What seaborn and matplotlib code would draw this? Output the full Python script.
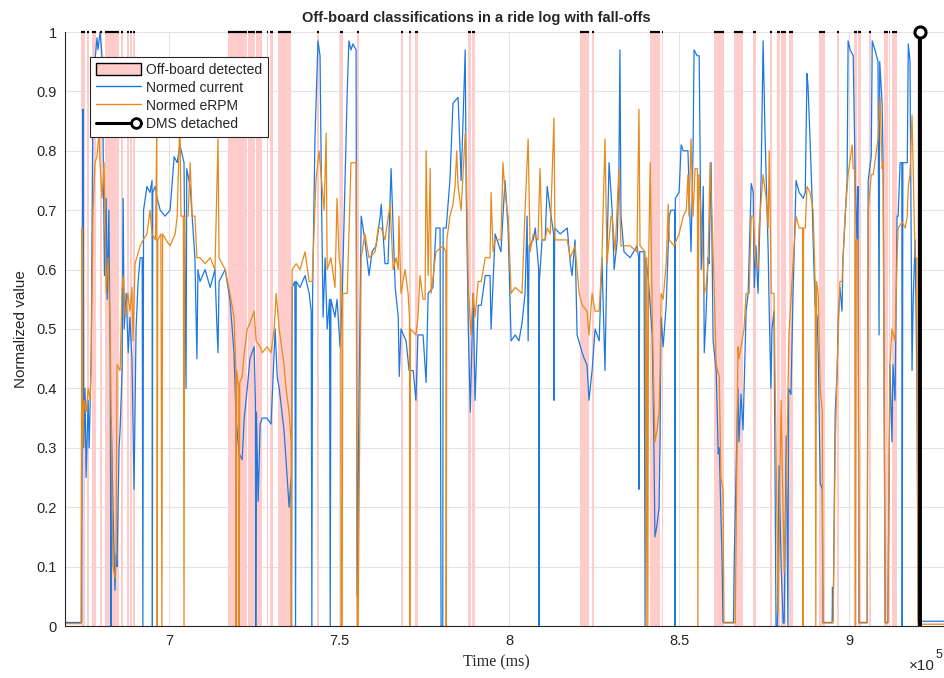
"""Off-board classification chart (MATLAB-style look) with seaborn."""
import numpy as np
import matplotlib
matplotlib.use("Agg")
import matplotlib.pyplot as plt
from matplotlib.lines import Line2D
from matplotlib.patches import Patch
from matplotlib.legend_handler import HandlerBase
import seaborn as sns

# ---- data (time in thousands of ms, values normalized) ----
current = [
    (669.4, 0.006), (674.3, 0.006), (674.5, 0.60), (674.7, 0.87), (674.9, 0.30), (675.3, 0.40),
    (675.6, 0.25), (676.2, 0.38), (676.5, 0.30), (677.1, 0.45), (677.6, 0.88), (678.2, 0.95),
    (678.8, 0.99), (679.1, 0.97), (679.7, 1.0), (680.3, 0.96), (680.6, 0.82), (681.0, 0.59),
    (681.5, 0.72), (681.8, 0.55), (682.3, 0.70), (682.7, 0.45), (682.9, 0.0), (683.0, 0.35),
    (683.5, 0.20), (684.1, 0.06), (684.4, 0.12), (684.7, 0.10), (685.3, 0.30), (685.6, 0.33),
    (686.2, 0.43), (686.5, 0.72), (686.8, 0.50), (687.4, 0.56), (688.0, 0.46), (688.5, 0.52),
    (689.1, 0.45), (689.7, 0.23), (690.3, 0.50), (690.9, 0.58), (691.5, 0.62), (692.1, 0.62),
    (692.3, 0.0), (692.5, 0.70), (693.5, 0.74), (694.4, 0.73), (695.0, 0.75), (695.1, 0.0),
    (695.2, 0.73), (695.9, 0.74), (696.5, 0.72), (697.4, 0.70), (698.8, 0.69), (700.3, 0.70),
    (701.5, 0.79), (702.4, 0.78), (703.2, 0.81), (704.4, 0.78), (705.0, 0.40), (705.2, 0.77),
    (706.2, 0.74), (707.6, 0.62), (708.2, 0.45), (708.5, 0.60), (709.1, 0.58), (710.6, 0.60),
    (712.1, 0.57), (713.5, 0.60), (714.1, 0.50), (714.4, 0.46), (714.7, 0.58), (716.5, 0.60),
    (717.9, 0.55), (719.1, 0.46), (719.7, 0.35), (720.6, 0.29), (721.5, 0.28), (722.1, 0.35),
    (723.0, 0.40), (723.8, 0.45), (725.0, 0.47), (725.4, 0.38), (725.5, 0.0), (725.7, 0.36),
    (726.2, 0.21), (726.8, 0.34), (727.4, 0.35), (728.8, 0.35), (730.0, 0.34), (731.2, 0.50),
    (731.8, 0.42), (732.4, 0.40), (733.8, 0.33), (734.4, 0.28), (735.3, 0.20), (735.9, 0.25),
    (736.0, 0.0), (736.2, 0.57), (737.0, 0.58), (737.2, 0.0), (737.4, 0.58), (738.5, 0.57),
    (740.0, 0.59), (741.2, 0.56), (741.8, 0.53), (742.0, 0.0), (742.2, 0.55), (742.9, 0.82),
    (743.8, 0.985), (744.4, 0.96), (744.9, 0.69), (745.3, 0.52), (745.9, 0.62), (746.5, 0.50),
    (747.2, 0.55), (747.4, 0.0), (747.6, 0.55), (748.8, 0.52), (749.4, 0.55), (750.3, 0.47),
    (750.9, 0.55), (752.4, 0.90), (752.9, 0.985), (753.5, 0.97), (754.1, 0.98), (755.0, 0.97),
    (755.3, 0.05), (755.9, 0.40), (756.5, 0.69), (757.6, 0.65), (758.8, 0.59), (759.7, 0.63),
    (760.9, 0.64), (762.1, 0.69), (762.4, 0.71), (763.5, 0.61), (764.4, 0.61), (765.3, 0.77),
    (766.5, 0.57), (767.4, 0.52), (767.7, 0.42), (768.2, 0.50), (769.7, 0.48), (770.6, 0.43),
    (771.8, 0.43), (772.6, 0.38), (773.2, 0.49), (774.7, 0.49), (775.6, 0.41), (776.2, 0.56),
    (777.6, 0.57), (778.5, 0.67), (779.7, 0.67), (780.0, 0.0), (780.5, 0.0), (780.6, 0.67),
    (781.5, 0.67), (782.6, 0.75), (783.5, 0.88), (785.0, 0.89), (785.9, 0.75), (787.1, 0.97),
    (787.4, 0.73), (788.0, 0.50), (788.6, 0.36), (789.4, 0.56), (790.0, 0.38), (790.9, 0.54),
    (791.8, 0.54), (793.0, 0.59), (794.4, 0.59), (794.7, 0.50), (795.9, 0.66), (797.6, 0.63),
    (798.8, 0.75), (799.7, 0.67), (800.6, 0.48), (801.8, 0.49), (802.9, 0.48), (803.8, 0.51),
    (804.7, 0.56), (805.3, 0.69), (805.6, 0.48), (805.9, 0.64), (807.1, 0.65), (807.7, 0.67),
    (808.7, 0.60), (808.8, 0.0), (808.9, 0.58), (809.7, 0.65), (810.6, 0.65), (811.2, 0.74),
    (812.1, 0.70), (813.1, 0.66), (813.2, 0.38), (813.4, 0.67), (815.0, 0.66), (817.1, 0.67),
    (818.0, 0.61), (818.5, 0.59), (819.4, 0.65), (820.0, 0.49), (821.5, 0.46), (822.1, 0.45),
    (822.9, 0.44), (823.5, 0.38), (824.4, 0.43), (825.3, 0.50), (826.5, 0.48), (827.3, 0.62),
    (828.2, 0.43), (828.8, 0.63), (829.4, 0.78), (830.3, 0.70), (830.9, 0.60), (831.8, 0.65),
    (832.3, 0.77), (832.6, 0.97), (832.9, 0.69), (833.8, 0.63), (835.6, 0.62), (837.6, 0.64),
    (838.1, 0.62), (838.2, 0.23), (838.4, 0.63), (839.7, 0.63), (840.0, 0.0), (840.2, 0.62),
    (841.0, 0.58), (842.1, 0.49), (842.6, 0.30), (842.9, 0.15), (843.5, 0.17), (844.1, 0.20),
    (844.4, 0.31), (844.7, 0.52), (845.3, 0.47), (846.2, 0.54), (847.1, 0.69), (847.6, 0.70),
    (848.5, 0.70), (848.7, 0.70), (848.8, 0.0), (848.9, 0.72), (850.0, 0.73), (850.6, 0.81),
    (851.2, 0.80), (852.6, 0.80), (853.5, 0.63), (854.1, 0.80), (854.4, 0.97), (855.3, 0.96),
    (855.9, 0.96), (856.5, 0.60), (857.1, 0.74), (857.4, 0.46), (857.9, 0.52), (858.5, 0.62),
    (858.8, 0.61), (859.4, 0.78), (860.0, 0.48), (860.9, 0.43), (861.5, 0.29), (861.8, 0.30),
    (862.6, 0.12), (862.9, 0.006), (866.0, 0.006), (866.2, 0.11), (867.3, 0.40), (867.6, 0.31),
    (868.2, 0.39), (868.8, 0.33), (869.7, 0.53), (870.3, 0.56), (871.2, 0.745), (871.8, 0.73),
    (872.1, 0.57), (872.6, 0.64), (873.2, 0.56), (874.1, 0.75), (874.7, 0.985), (875.3, 0.82),
    (876.2, 0.63), (876.5, 0.53), (877.0, 0.40), (877.3, 0.50), (877.9, 0.53), (878.5, 0.0),
    (878.9, 0.0), (879.4, 0.27), (880.0, 0.10), (880.6, 0.005), (880.9, 0.005), (881.5, 0.32),
    (882.0, 0.0), (882.2, 0.40), (882.9, 0.39), (883.5, 0.56), (883.8, 0.62), (884.4, 0.75),
    (885.3, 0.73), (886.5, 0.72), (887.1, 0.73), (887.6, 0.93), (887.9, 0.91), (888.5, 0.82),
    (889.1, 0.72), (889.4, 0.65), (890.0, 0.54), (890.6, 0.52), (890.9, 0.46), (891.5, 0.24),
    (892.1, 0.23), (892.3, 0.006), (895.0, 0.006), (895.1, 0.065), (895.3, 0.01), (895.9, 0.36),
    (896.5, 0.43), (896.8, 0.52), (897.3, 0.57), (897.9, 0.53), (898.2, 0.62), (899.4, 0.75),
    (899.7, 0.985), (900.3, 0.97), (901.2, 0.96), (901.8, 0.75), (902.3, 0.65), (902.6, 0.74),
    (902.9, 0.006), (905.3, 0.006), (905.6, 0.75), (906.5, 0.79), (906.8, 0.985), (907.6, 0.97),
    (908.5, 0.95), (908.8, 0.49), (909.0, 0.95), (909.7, 0.88), (910.0, 0.78), (910.6, 0.006),
    (911.4, 0.006), (912.0, 0.44), (912.6, 0.31), (912.9, 0.44), (913.5, 0.38), (914.1, 0.69),
    (914.4, 0.69), (915.0, 0.78), (915.5, 0.78), (915.6, 0.0), (915.8, 0.78), (917.1, 0.78),
    (917.4, 0.98), (917.9, 0.95), (918.5, 0.43), (918.8, 0.54), (919.4, 0.65), (919.9, 0.43),
    (920.3, 0.008), (928.0, 0.008),
]

erpm = [
    (669.4, 0.004), (674.1, 0.004), (674.4, 0.67), (674.6, 0.30), (675.0, 0.38), (675.6, 0.36),
    (676.2, 0.40), (676.8, 0.38), (677.1, 0.45), (677.6, 0.69), (678.2, 0.78), (678.8, 0.79),
    (679.4, 0.83), (679.7, 0.78), (680.3, 0.72), (680.9, 0.78), (681.5, 0.56), (682.1, 0.62),
    (682.7, 0.49), (683.5, 0.10), (684.1, 0.08), (684.4, 0.12), (684.7, 0.44), (685.6, 0.43),
    (686.2, 0.57), (686.5, 0.59), (687.1, 0.52), (687.9, 0.56), (688.5, 0.53), (689.1, 0.57),
    (689.4, 0.48), (690.0, 0.61), (691.5, 0.64), (692.4, 0.65), (693.5, 0.66), (694.4, 0.70),
    (695.0, 0.66), (696.0, 0.65), (696.4, 0.84), (696.5, 0.0), (696.7, 0.65), (697.6, 0.66),
    (697.9, 0.0), (698.1, 0.66), (699.1, 0.65), (700.3, 0.64), (701.8, 0.66), (702.4, 0.69),
    (703.2, 0.86), (703.5, 0.69), (704.2, 0.69), (704.4, 0.0), (704.6, 0.69), (705.6, 0.69),
    (706.2, 0.78), (706.8, 0.69), (707.6, 0.69), (708.2, 0.62), (709.1, 0.62), (710.6, 0.61),
    (712.1, 0.62), (713.5, 0.60), (714.4, 0.82), (714.7, 0.62), (716.5, 0.60), (717.9, 0.56),
    (719.1, 0.52), (719.6, 0.44), (719.7, 0.0), (719.9, 0.43), (720.5, 0.40), (720.6, 0.0),
    (720.8, 0.41), (721.5, 0.42), (722.1, 0.46), (723.0, 0.50), (723.8, 0.51), (725.0, 0.53),
    (725.6, 0.48), (726.8, 0.47), (727.4, 0.46), (728.8, 0.47), (730.0, 0.46), (730.9, 0.50),
    (731.5, 0.56), (732.4, 0.50), (733.8, 0.44), (734.4, 0.40), (735.3, 0.36), (735.9, 0.31),
    (736.0, 0.0), (736.2, 0.60), (737.4, 0.61), (738.5, 0.60), (740.0, 0.63), (741.2, 0.58),
    (742.1, 0.58), (743.2, 0.75), (744.1, 0.80), (744.7, 0.76), (745.6, 0.70), (746.2, 0.83),
    (746.5, 0.60), (747.6, 0.62), (748.8, 0.57), (749.4, 0.72), (750.0, 0.62), (750.5, 0.60),
    (750.6, 0.0), (750.9, 0.0), (751.1, 0.56), (752.4, 0.56), (753.5, 0.78), (755.0, 0.78),
    (755.3, 0.0), (755.6, 0.0), (756.5, 0.62), (757.6, 0.66), (758.8, 0.62), (760.6, 0.63),
    (761.5, 0.67), (762.4, 0.67), (763.5, 0.65), (765.0, 0.71), (765.9, 0.60), (766.8, 0.62),
    (767.4, 0.60), (767.6, 0.69), (768.2, 0.56), (769.4, 0.60), (770.3, 0.56), (770.7, 0.52),
    (770.8, 0.0), (771.0, 0.50), (772.6, 0.49), (773.2, 0.52), (773.8, 0.59), (774.7, 0.55),
    (775.3, 0.55), (775.6, 0.80), (776.2, 0.59), (776.8, 0.77), (777.1, 0.56), (778.5, 0.63),
    (780.6, 0.64), (781.4, 0.63), (781.5, 0.0), (781.7, 0.65), (782.6, 0.69), (783.5, 0.71),
    (784.1, 0.74), (784.6, 0.80), (785.0, 0.74), (785.9, 0.70), (787.1, 0.83), (787.4, 0.78),
    (788.0, 0.57), (788.8, 0.49), (789.4, 0.56), (790.0, 0.52), (790.9, 0.58), (791.8, 0.58),
    (793.0, 0.62), (794.4, 0.62), (794.7, 0.73), (795.3, 0.63), (795.9, 0.65), (797.6, 0.65),
    (798.2, 0.78), (798.8, 0.73), (799.7, 0.69), (800.6, 0.56), (801.8, 0.57), (803.8, 0.56),
    (804.7, 0.70), (805.6, 0.82), (806.2, 0.63), (807.1, 0.66), (808.5, 0.65), (809.1, 0.77),
    (809.7, 0.65), (810.6, 0.65), (811.2, 0.67), (812.1, 0.66), (813.2, 0.855), (813.5, 0.65),
    (815.0, 0.65), (817.1, 0.65), (818.0, 0.62), (819.4, 0.64), (820.6, 0.56), (821.5, 0.54),
    (822.9, 0.53), (823.5, 0.49), (824.4, 0.56), (825.3, 0.53), (826.5, 0.53), (827.3, 0.62),
    (828.2, 0.82), (828.8, 0.61), (830.0, 0.69), (830.3, 0.69), (831.2, 0.63), (832.3, 0.77),
    (832.9, 0.64), (835.6, 0.64), (837.6, 0.63), (838.2, 0.87), (838.5, 0.64), (840.0, 0.63),
    (840.3, 0.0), (840.5, 0.62), (840.8, 0.0), (841.0, 0.60), (841.5, 0.78), (842.1, 0.52),
    (842.9, 0.31), (843.5, 0.33), (844.1, 0.36), (844.4, 0.43), (844.7, 0.56), (845.3, 0.55),
    (846.2, 0.61), (846.8, 0.71), (847.1, 0.65), (848.5, 0.64), (850.0, 0.66), (851.2, 0.69),
    (852.1, 0.70), (852.6, 0.76), (852.9, 0.69), (853.5, 0.82), (854.1, 0.69), (854.7, 0.77),
    (855.4, 0.77), (855.5, 0.0), (855.8, 0.76), (856.5, 0.69), (857.4, 0.56), (857.9, 0.57),
    (858.5, 0.61), (859.1, 0.78), (860.0, 0.63), (860.9, 0.44), (861.8, 0.42), (862.3, 0.25),
    (862.9, 0.23), (863.2, 0.005), (866.5, 0.005), (866.8, 0.17), (867.3, 0.47), (867.6, 0.45),
    (868.2, 0.47), (869.1, 0.50), (869.7, 0.56), (870.6, 0.56), (871.2, 0.69), (871.8, 0.69),
    (872.6, 0.61), (873.2, 0.60), (873.5, 0.67), (874.7, 0.76), (875.6, 0.72), (876.2, 0.67),
    (876.5, 0.80), (877.1, 0.56), (877.9, 0.56), (878.5, 0.30), (879.1, 0.02), (880.0, 0.38),
    (880.9, 0.09), (881.5, 0.23), (882.1, 0.43), (882.3, 0.49), (883.5, 0.61), (884.4, 0.69),
    (885.3, 0.67), (886.3, 0.67), (886.4, 0.0), (886.6, 0.67), (887.1, 0.67), (887.6, 0.74),
    (888.5, 0.73), (889.4, 0.70), (890.0, 0.58), (890.2, 0.0), (890.4, 0.58), (890.9, 0.56),
    (891.5, 0.40), (892.1, 0.36), (892.3, 0.005), (895.3, 0.005), (895.9, 0.30), (896.5, 0.44),
    (897.3, 0.58), (897.9, 0.58), (898.8, 0.69), (899.7, 0.76), (900.9, 0.81), (901.2, 0.77),
    (901.7, 0.77), (901.8, 0.0), (902.1, 0.65), (902.6, 0.65), (902.9, 0.005), (905.3, 0.005),
    (905.6, 0.70), (906.5, 0.76), (907.1, 0.76), (908.5, 0.82), (909.1, 0.89), (909.7, 0.77),
    (910.0, 0.78), (910.6, 0.005), (911.4, 0.005), (912.0, 0.44), (912.6, 0.50), (913.5, 0.48),
    (914.1, 0.62), (914.4, 0.67), (915.6, 0.68), (916.5, 0.67), (917.1, 0.69), (917.4, 0.74),
    (917.9, 0.76), (918.5, 0.86), (918.8, 0.78), (919.4, 0.62), (919.9, 0.62), (920.3, 0.003),
    (928.0, 0.003),
]

# off-board detected intervals (start, end), thousands of ms
offboard = [
    (674.0, 675.3), (675.9, 676.6), (677.2, 678.6), (679.7, 680.3), (681.2, 685.2),
    (685.9, 686.5), (687.6, 688.2), (688.6, 689.1), (689.4, 690.0),
    (717.4, 722.9), (723.2, 725.3), (725.6, 727.4), (728.8, 729.2), (729.7, 730.6),
    (732.0, 735.9), (743.5, 744.0), (750.3, 751.1), (755.3, 755.9),
    (768.2, 768.8), (770.6, 771.2), (772.3, 773.2), (787.9, 788.8), (789.1, 790.0),
    (820.9, 823.5), (824.4, 825.0), (841.5, 844.4), (845.0, 845.3),
    (860.3, 863.2), (866.2, 868.8), (871.6, 872.5), (876.6, 877.2), (878.7, 879.8),
    (880.1, 881.3), (882.4, 883.5), (891.2, 892.9), (896.5, 897.1), (901.5, 902.4),
    (902.7, 903.5), (905.9, 906.5), (910.3, 911.5), (911.6, 912.0), (912.6, 914.1),
    (920.0, 920.6),
]

dms_time = 920.9          # thousands of ms
x_range = (669.4, 927.9)  # thousands of ms

x_ticks = [700, 750, 800, 850, 900]
x_tick_labels = ["7", "7.5", "8", "8.5", "9"]
y_ticks = [0, 0.1, 0.2, 0.3, 0.4, 0.5, 0.6, 0.7, 0.8, 0.9, 1.0]
y_tick_labels = ["0", "0.1", "0.2", "0.3", "0.4", "0.5", "0.6", "0.7", "0.8", "0.9", "1"]

BLUE = "#1f78e0"
ORANGE = "#e8891c"
PINK = "#ffcccc"

sns.set_theme(style="whitegrid")
plt.rcParams["font.family"] = ["Liberation Sans", "DejaVu Sans"]

cur = np.array(current)
rpm = np.array(erpm)
cur_t, cur_v = cur[:, 0] * 1000, cur[:, 1]
rpm_t, rpm_v = rpm[:, 0] * 1000, rpm[:, 1]

fig = plt.figure(figsize=(9.44, 6.78), dpi=100)
ax = fig.add_axes([65 / 944, 52 / 678, 879 / 944, 594 / 678])
ax.set_facecolor("white")

for a, b in offboard:
    ax.axvspan(a * 1000, b * 1000, color=PINK, lw=0, zorder=1)
    ax.hlines(1.0, a * 1000, b * 1000, color="black", lw=1.6, zorder=4, clip_on=False)

sns.lineplot(x=cur_t, y=cur_v, ax=ax, color=BLUE, lw=0.9, estimator=None, sort=False,
             legend=False, zorder=2)
sns.lineplot(x=rpm_t, y=rpm_v, ax=ax, color=ORANGE, lw=0.9, estimator=None, sort=False,
             legend=False, zorder=3)

ax.plot([dms_time * 1000, dms_time * 1000], [0, 1], color="black", lw=2.8, zorder=5,
        solid_capstyle="butt")
ax.plot([dms_time * 1000], [1], marker="o", ms=8, mfc="white", mec="black", mew=2.2,
        zorder=6, clip_on=False)

ax.set_xlim(x_range[0] * 1000, x_range[1] * 1000)
ax.set_ylim(0, 1)
ax.set_xticks([t * 1000 for t in x_ticks])
ax.set_xticklabels(x_tick_labels)
ax.set_yticks(y_ticks)
ax.set_yticklabels(y_tick_labels)
ax.tick_params(direction="in", length=4, width=0.8, color="#262626", labelsize=10.5,
               labelcolor="#262626", pad=6)
ax.grid(True, color="#e3e3e3", lw=0.8)
ax.set_axisbelow(True)
for s in ["top", "right"]:
    ax.spines[s].set_visible(False)
for s in ["left", "bottom"]:
    ax.spines[s].set_color("#262626")
    ax.spines[s].set_linewidth(0.8)
    ax.spines[s].set_zorder(7)

ax.set_title("Off-board classifications in a ride log with fall-offs", fontsize=10.5,
             fontweight="bold", x=0.468, pad=7)
ax.set_xlabel("Time (ms)", family=["Liberation Serif", "DejaVu Serif"], fontsize=11.5,
              color="#262626")
ax.xaxis.set_label_coords(0.491, -0.047)
ax.set_ylabel("Normalized value", fontsize=11, color="#262626")
ax.yaxis.set_label_coords(-0.042, 0.5)

# exponent label of the x axis (x10^5), placed in figure pixels
fig.text(935, 678 - 670, "×10", transform=None, ha="right", va="baseline",
         fontsize=11, color="#262626")
fig.text(936, 678 - 658, "5", transform=None, ha="left", va="baseline",
         fontsize=9, color="#262626")


class EndMarker(HandlerBase):
    def create_artists(self, legend, orig, xd, yd, w, h, fs, trans):
        y = h / 2 - yd
        ln = Line2D([-xd, w - xd], [y, y], color="black", lw=2.2)
        mk = Line2D([w - xd - 4], [y], marker="o", ms=7, mfc="white", mec="black", mew=2)
        ln.set_transform(trans)
        mk.set_transform(trans)
        return [ln, mk]


handles = [
    Patch(facecolor=PINK, edgecolor="black", lw=1),
    Line2D([], [], color=BLUE, lw=1),
    Line2D([], [], color=ORANGE, lw=1),
    Line2D([], [], color="black", lw=2),
]
labels = ["Off-board detected", "Normed current", "Normed eRPM", "DMS detached"]
leg = ax.legend(handles, labels, loc="upper left", bbox_to_anchor=(0.0284, 0.958),
                borderaxespad=0, fontsize=10, frameon=True, fancybox=False, framealpha=1,
                edgecolor="#262626", handlelength=3.3, handleheight=1.0,
                labelspacing=0.3, borderpad=0.4, handletextpad=0.35,
                handler_map={handles[3]: EndMarker()})
leg.get_frame().set_linewidth(0.8)
leg.set_zorder(10)

fig.savefig("out.png", dpi=100, facecolor="white")
